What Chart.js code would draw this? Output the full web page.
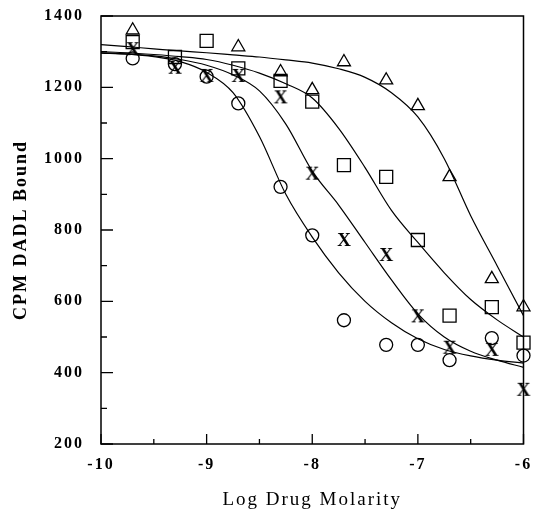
<!DOCTYPE html>
<html>
<head>
<meta charset="utf-8">
<script src="https://cdn.jsdelivr.net/npm/chart.js@4"></script>
<style>
  html, body { margin: 0; padding: 0; background: #fff; }
  #wrap { width: 534px; height: 513px; }
</style>
</head>
<body>
<div id="wrap"><canvas id="bindChart"></canvas></div>
<script>
// measured concentrations (log M)
const logDose = [-9.7, -9.3, -9.0, -8.7, -8.3, -8.0, -7.7, -7.3, -7.0, -6.7, -6.3, -6.0];

// CPM bound for each drug
const triangles = [1360, null, null, 1313, 1243, 1193, 1271, 1220, 1148, 949, 663, 584];
const squares   = [1327, 1285, 1330, 1253, 1218, 1160, 982, 949, 772, 560, 584, 484];
const crosses   = [1307, 1255, 1232, 1232, 1172, 958, 772, 730, 558, 470, 464, 352];
const circles   = [1281, 1265, 1230, 1155, 921, 785, 547, 478, 478, 435, 497, 448];

// fitted curves
const curveX        = [-10, -9.75, -9.5, -9.25, -9, -8.75, -8.5, -8.25, -8, -7.75, -7.5, -7.25, -7, -6.75, -6.5, -6.25, -6];
const curveTriangle = [1320, 1314, 1308, 1302, 1297, 1291, 1285, 1277, 1268, 1252, 1228, 1185, 1117, 1000, 840, 700, 560];
const curveSquare   = [1300, 1297, 1292, 1286, 1278, 1262, 1240, 1210, 1170, 1085, 975, 855, 765, 680, 605, 548, 500];
const curveCross    = [1297, 1294, 1288, 1278, 1262, 1235, 1190, 1097, 965, 870, 765, 660, 565, 500, 460, 435, 415];
const curveCircle   = [1296, 1293, 1286, 1272, 1242, 1185, 1062, 900, 780, 680, 600, 540, 495, 465, 447, 435, 427];

const yTicks = [200, 400, 600, 800, 1000, 1200, 1400];
const xTicks = [-10, -9, -8, -7, -6];

function pts(xs, ys) {
    return xs.map((x, i) => ({ x: x, y: ys[i] })).filter(p => p.y !== null);
}

// bold serif "X" used as the marker for one drug
const xMark = document.createElement('canvas');
xMark.width = 18; xMark.height = 18;
(function () {
    const c = xMark.getContext('2d');
    c.fillStyle = '#000';
    c.font = 'bold 19px "Liberation Serif"';
    c.textAlign = 'center';
    c.textBaseline = 'middle';
    c.fillText('X', 9, 10);
})();

function curve(data) {
    return {
        type: 'line',
        data: pts(curveX, data),
        borderColor: '#000',
        borderWidth: 1.2,
        pointRadius: 0,
        cubicInterpolationMode: 'monotone',
        fill: false
    };
}

function marks(data, style, radius) {
    return {
        type: 'scatter',
        data: pts(logDose, data),
        pointStyle: style,
        pointRadius: radius,
        pointBorderColor: '#000',
        pointBackgroundColor: 'rgba(0,0,0,0)',
        pointBorderWidth: 1.3,
        clip: false
    };
}

// spaced-out lettering for the axis text, like the typed original
const spacing = {
    id: 'spacing',
    beforeDraw(chart) { chart.ctx.letterSpacing = '2px'; },
    beforeDatasetsDraw(chart) { chart.ctx.letterSpacing = '0px'; }
};

// frame plus inward tick marks
const frameTicks = {
    id: 'frameTicks',
    afterDraw(chart) {
        const ctx = chart.ctx;
        const a = chart.chartArea;
        const xs = chart.scales.x, ys = chart.scales.y;
        ctx.save();
        ctx.strokeStyle = '#000';
        ctx.lineWidth = 1.5;
        ctx.strokeRect(a.left, a.top, a.right - a.left, a.bottom - a.top);
        ctx.lineWidth = 1.3;
        ctx.beginPath();
        for (let v = 200; v <= 1400; v += 100) {
            const y = ys.getPixelForValue(v);
            const len = v % 200 === 0 ? 12 : 6;
            ctx.moveTo(a.left, y); ctx.lineTo(a.left + len, y);
        }
        for (let v = -10; v <= -6; v += 0.5) {
            const x = xs.getPixelForValue(v);
            const len = Number.isInteger(v) ? 10 : 5;
            ctx.moveTo(x, a.bottom); ctx.lineTo(x, a.bottom - len);
        }
        ctx.stroke();
        ctx.restore();
    }
};

const ctx = document.getElementById('bindChart').getContext('2d');
new Chart(ctx, {
    data: {
        datasets: [
            curve(curveTriangle),
            curve(curveSquare),
            curve(curveCross),
            curve(curveCircle),
            marks(triangles, 'triangle', 7.5),
            marks(squares, 'rect', 9.2),
            marks(crosses, xMark, 9),
            marks(circles, 'circle', 6.5)
        ]
    },
    options: {
        responsive: true,
        maintainAspectRatio: false,
        animation: false,
        layout: { padding: { left: 0, right: 8, top: 16, bottom: 0 } },
        plugins: { legend: { display: false }, tooltip: { enabled: false } },
        scales: {
            x: {
                type: 'linear',
                min: -10, max: -6,
                afterFit: s => { s.height = 69; s.paddingLeft = 0; s.paddingRight = 0; },
                afterBuildTicks: s => { s.ticks = xTicks.map(v => ({ value: v })); },
                grid: { display: false, drawTicks: false },
                border: { display: false },
                ticks: {
                    color: '#000',
                    padding: 11,
                    maxRotation: 0,
                    font: { family: '"Liberation Serif"', size: 16, weight: 'bold' },
                    callback: v => String(v)
                },
                title: {
                    display: true,
                    text: 'Log Drug Molarity',
                    color: '#000',
                    padding: { top: 0, bottom: 2 },
                    font: { family: '"Liberation Serif"', size: 19 }
                }
            },
            y: {
                type: 'linear',
                min: 200, max: 1400,
                afterFit: s => { s.width = 101; s.paddingTop = 0; s.paddingBottom = 0; },
                afterBuildTicks: s => { s.ticks = yTicks.map(v => ({ value: v })); },
                grid: { display: false, drawTicks: false },
                border: { display: false },
                ticks: {
                    color: '#000',
                    padding: 17,
                    font: { family: '"Liberation Serif"', size: 16, weight: 'bold' },
                    callback: v => String(v)
                },
                title: {
                    display: true,
                    text: 'CPM DADL Bound',
                    color: '#000',
                    padding: { top: 11, bottom: 0 },
                    font: { family: '"Liberation Serif"', size: 18, weight: 'bold' }
                }
            }
        }
    },
    plugins: [spacing, frameTicks]
});
</script>
</body>
</html>
